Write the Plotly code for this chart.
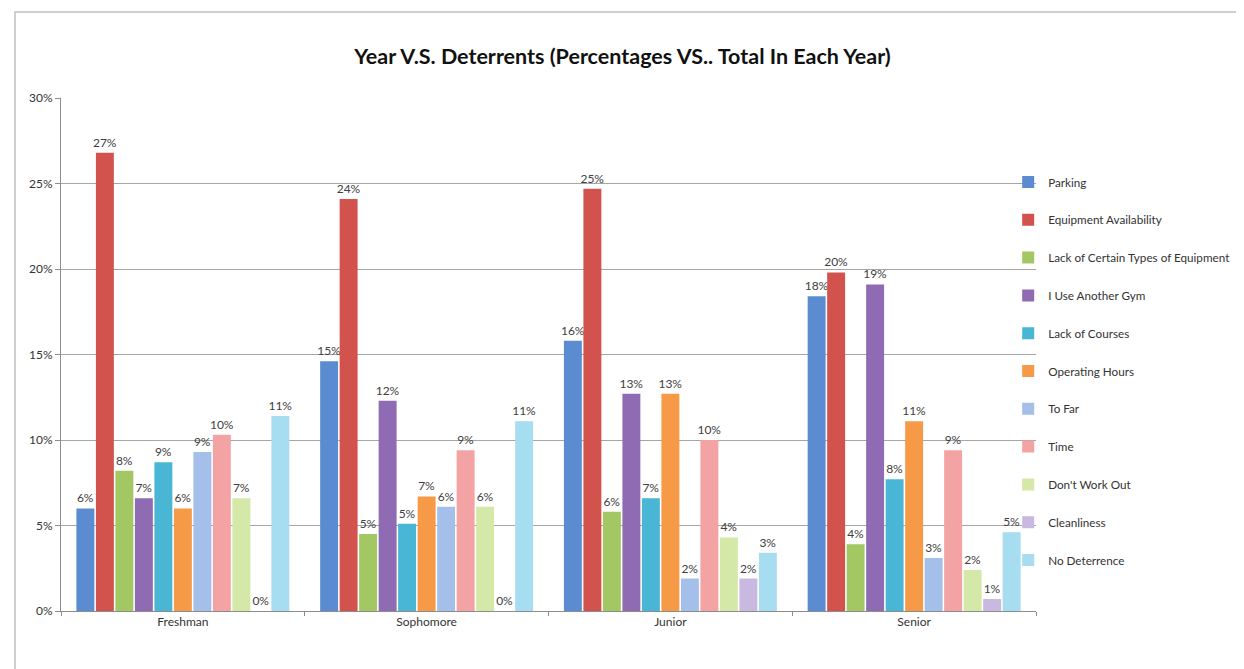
import plotly.graph_objects as go

years = ["Freshman", "Sophomore", "Junior", "Senior"]

parking = [6.0, 14.6, 15.8, 18.4]
equipment_availability = [26.8, 24.1, 24.7, 19.8]
lack_certain_equipment = [8.2, 4.5, 5.8, 3.9]
another_gym = [6.6, 12.3, 12.7, 19.1]
lack_courses = [8.7, 5.1, 6.6, 7.7]
operating_hours = [6.0, 6.7, 12.7, 11.1]
to_far = [9.3, 6.1, 1.9, 3.1]
time_ = [10.3, 9.4, 10.0, 9.4]
dont_work_out = [6.6, 6.1, 4.3, 2.4]
cleanliness = [0.0, 0.0, 1.9, 0.7]
no_deterrence = [11.4, 11.1, 3.4, 4.6]

series_names = ["Parking", "Equipment Availability", "Lack of Certain Types of Equipment",
                "I Use Another Gym", "Lack of Courses", "Operating Hours", "To Far", "Time",
                "Don't Work Out", "Cleanliness", "No Deterrence"]
series_values = [parking, equipment_availability, lack_certain_equipment, another_gym,
                 lack_courses, operating_hours, to_far, time_, dont_work_out, cleanliness,
                 no_deterrence]
colors = ["#5B8BD0", "#D2524E", "#A3C763", "#8E6BB3", "#48B6D4", "#F79A48",
          "#A3BFEA", "#F3A3A3", "#D4E8A8", "#C9B9E0", "#A6DDF0"]

y_ticks = [0, 5, 10, 15, 20, 25, 30]
y_tick_labels = ["0%", "5%", "10%", "15%", "20%", "25%", "30%"]

font_family = "Liberation Sans Narrow, Lato, Arial Narrow, sans-serif"

fig = go.Figure()
for i, (name, vals, col) in enumerate(zip(series_names, series_values, colors)):
    fig.add_trace(go.Bar(
        x=years, y=vals, name=name,
        marker=dict(color=col, line=dict(width=0)),
        texttemplate="%{y:.0f}%",
        textposition="outside",
        constraintext="none",
        cliponaxis=False,
        textfont=dict(size=12, color="#404040", family=font_family),
        legendgroup=name,
    ))

fig.update_layout(
    width=1244, height=669,
    paper_bgcolor="white", plot_bgcolor="white",
    margin=dict(l=53, r=216, t=90, b=66, autoexpand=False),
    barmode="group",
    bargap=0.12, bargroupgap=0.08,
    title=dict(text="<b>Year V.S. Deterrents (Percentages VS.. Total In Each Year)</b>",
               x=0.494, xref="container", xanchor="center", y=0.928, yanchor="middle",
               font=dict(size=21.5, color="#111111", family=font_family)),
    font=dict(family=font_family, size=12, color="#333333"),
    legend=dict(xref="container", yref="container", x=0.804, xanchor="left",
                y=(669 - 363) / 669, yanchor="middle", maxheight=1,
                font=dict(size=11.7, color="#333333", family=font_family),
                tracegroupgap=18.8, itemwidth=30, bgcolor="rgba(0,0,0,0)"),
    showlegend=True,
    shapes=[dict(type="rect", xref="paper", yref="paper",
                 x0=(7 - 53) / 975, x1=(1243 - 53) / 975,
                 y0=(603 - 667) / 513, y1=(603 - 4) / 513,
                 line=dict(color="#C0C0C0", width=1.5), fillcolor="rgba(0,0,0,0)", layer="below")],
)
fig.update_xaxes(showline=True, linecolor="#8C8C8C", linewidth=1, ticks="outside",
                 tickson="boundaries", ticklen=4, tickcolor="#8C8C8C",
                 tickfont=dict(size=12, color="#333333"))
fig.update_yaxes(range=[0, 30], tickvals=y_ticks, ticktext=y_tick_labels,
                 showline=True, linecolor="#8C8C8C", linewidth=1, ticks="outside",
                 ticklen=5, tickcolor="#8C8C8C", showgrid=True, gridcolor="#A6A6A6",
                 gridwidth=1, zeroline=False, tickfont=dict(size=12, color="#333333"))

fig.write_html("out.html")
